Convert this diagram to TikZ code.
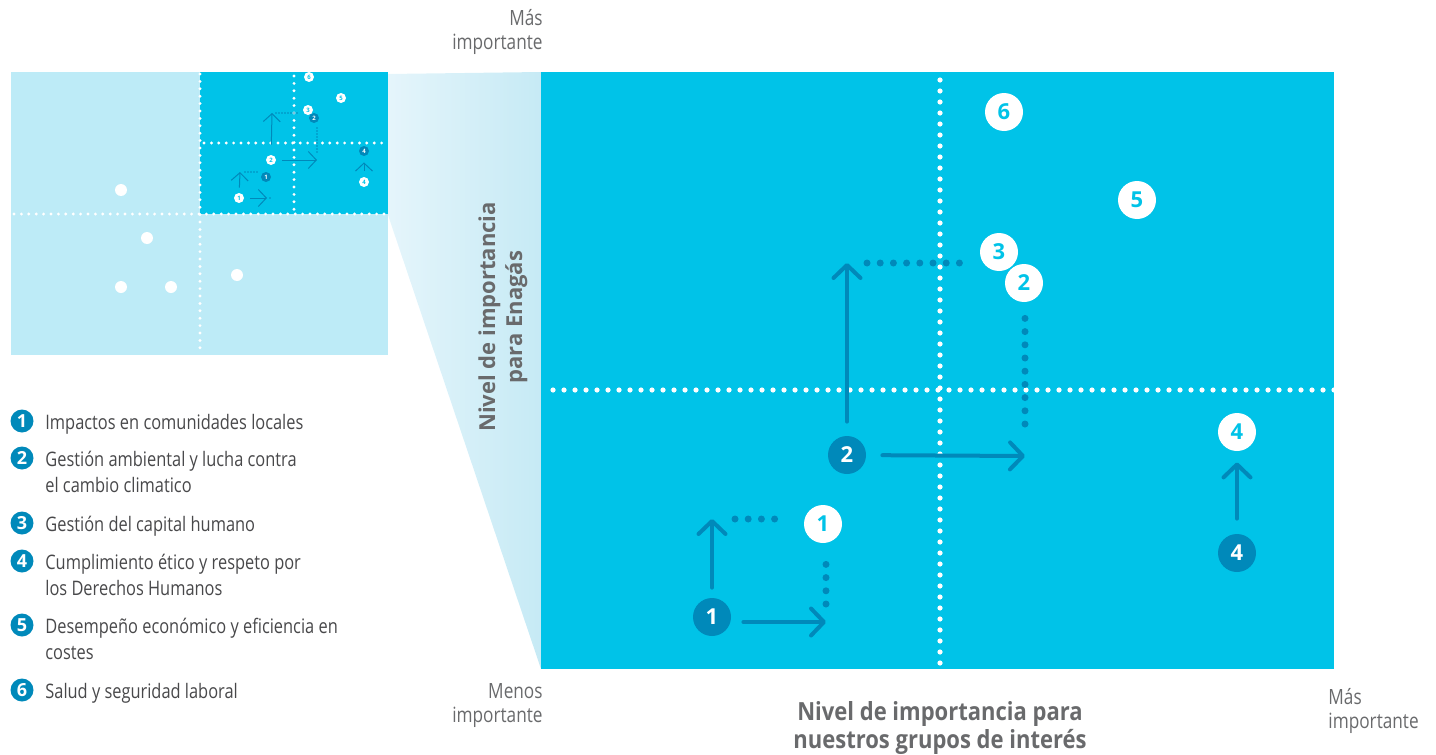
\documentclass[tikz,border=0pt]{standalone}
\usepackage{fontspec}
\setmainfont{Open Sans}
\newfontfamily\condfont[FakeStretch=0.82]{Open Sans}
\newfontfamily\titlefont[FakeStretch=0.88]{Open Sans}
\usetikzlibrary{arrows.meta,positioning}

\definecolor{chartbg}{RGB}{0,195,232}
\definecolor{lightbg}{RGB}{189,235,247}
\definecolor{funnelL}{RGB}{229,245,251}
\definecolor{funnelR}{RGB}{198,234,245}
\definecolor{darkpt}{RGB}{0,137,186}
\definecolor{graytext}{RGB}{105,106,108}
\definecolor{legendtext}{RGB}{72,72,74}

\tikzset{
    endpt/.style={circle, fill=white, text=chartbg, minimum size=19pt, inner sep=0pt, font=\fontsize{11}{11}\selectfont\bfseries},
    startpt/.style={circle, fill=darkpt, text=white, minimum size=19pt, inner sep=0pt, font=\fontsize{11}{11}\selectfont\bfseries},
    move/.style={draw=darkpt, line width=2pt, line cap=round, -{Straight Barb[length=6.5pt,width=13.5pt,round]}},
    trail/.style={draw=darkpt, line width=3.5pt, line cap=round, dash pattern=on 0pt off 6.6pt},
    bigdots/.style={draw=white, line width=2.6pt, line cap=round, dash pattern=on 0pt off 5.5pt},
    smalldots/.style={draw=white, line width=1.6pt, line cap=round, dash pattern=on 0pt off 3.7pt},
    tendpt/.style={circle, fill=white, text=chartbg, minimum size=5pt, inner sep=0pt, font=\fontsize{3}{3}\selectfont\bfseries},
    tstartpt/.style={circle, fill=darkpt, text=white, minimum size=5pt, inner sep=0pt, font=\fontsize{3}{3}\selectfont\bfseries},
    tmove/.style={draw=darkpt, line width=0.5pt, -{Straight Barb[length=4pt,width=8.5pt]}},
    ttrail/.style={draw=darkpt, line width=0.8pt, line cap=round, dash pattern=on 0pt off 1.5pt},
    blip/.style={circle, fill=white, minimum size=6pt, inner sep=0pt},
    legdot/.style={circle, fill=darkpt, text=white, minimum size=11.5pt, inner sep=0pt, font=\fontsize{9}{9}\selectfont\bfseries},
    legtext/.style={text=legendtext, inner sep=0pt, align=left, font=\condfont\fontsize{10}{13}\selectfont},
    axistext/.style={text=graytext, inner sep=0pt, font=\condfont\fontsize{10.5}{12}\selectfont},
    axistitle/.style={text=graytext, inner sep=0pt, align=center, font=\titlefont\fontsize{12.5}{12}\selectfont\bfseries}
}

\begin{document}
\begin{tikzpicture}[x=0.5pt,y=-0.5pt]

\useasboundingbox (0,0) rectangle (1436,755);

% Backgrounds

\fill[lightbg] (11,72) rectangle (388,355);
\fill[chartbg] (200,72) rectangle (388,214);
\shade[left color=funnelL, right color=funnelR] (388,74) -- (541,72) -- (541,669) -- (388,215) -- cycle;
\fill[chartbg] (541,72) rectangle (1334,669);

% Grid lines

\draw[bigdots] (940,80) -- (940,669);
\draw[bigdots] (553,390) -- (1334,390);
\draw[smalldots] (200,74) -- (200,352);
\draw[smalldots] (14,214) -- (388,214);
\draw[smalldots] (294,76) -- (294,210);
\draw[smalldots] (204,143) -- (388,143);

% Thumbnail

\foreach \p [count=\i] in {(121,190),(147,238),(121,287),(171,287),(237,275)}
    \node[blip] (dot\i) at \p {};

\node[tendpt] (mw6) at (309,77) {6};
\node[tendpt] (mw5) at (341,98) {5};
\node[tendpt] (mw3) at (308,110) {3};
\node[tstartpt] (md2) at (314,118) {2};
\node[tstartpt] (md4) at (364,151) {4};
\node[tendpt] (mw4) at (364,182) {4};
\node[tendpt] (mw2) at (271,160) {2};
\node[tstartpt] (md1) at (266,177) {1};
\node[tendpt] (mw1) at (239,198) {1};

\coordinate (mu1) at (240,172);
\coordinate (mr1) at (267,198);
\coordinate (mu2) at (272,113);
\coordinate (mr2) at (317,160);

\draw[tmove, shorten <=2.5pt] (mw1) -- (mu1);
\draw[tmove, shorten <=3pt] (mw1.east |- mr1) -- (mr1);
\draw[ttrail, shorten <=2.5pt, shorten >=1pt] (mu1) -- (mu1 -| md1.west);
\draw[ttrail, shorten <=1.5pt, shorten >=1.5pt] (mr1) -- (mr1 -| md1.south);
\draw[tmove, shorten <=5pt] (mw2) -- (mu2);
\draw[tmove, shorten <=3pt] (mw2) -- (mr2);
\draw[ttrail, shorten <=2pt, shorten >=2.5pt] (mu2) -- (mu2 -| mw3.west);
\draw[ttrail, shorten <=4pt, shorten >=2pt] (mr2) -- (mr2 |- md2.south);
\draw[tmove, shorten <=3pt, shorten >=3pt] (mw4) -- (md4);

% Nodes

\node[endpt] (e6) at (1004,112) {6};
\node[endpt] (e5) at (1137,200) {5};
\node[endpt] (e3) at (999,252) {3};
\node[endpt] (e2) at (1024,283) {2};
\node[endpt] (e4) at (1237,432) {4};
\node[endpt] (e1) at (823,524) {1};
\node[startpt] (s2) at (847,455) {2};
\node[startpt] (s1) at (712,617) {1};
\node[startpt] (s4) at (1237,553) {4};

% Edges

\coordinate (u1) at (712,519);
\coordinate (r1) at (826,622);
\coordinate (u2) at (847,263);
\coordinate (r2) at (1025,456);

\draw[move, shorten <=5pt] (s1) -- (u1);
\draw[move, shorten <=6pt] (s1.east |- r1) -- (r1);
\draw[trail, shorten <=11.5pt, shorten >=8pt] (u1) -- (u1 -| e1.west);
\draw[trail, shorten <=9pt, shorten >=8pt] (r1) -- (r1 |- e1.south);
\draw[move, shorten <=7pt] (s2) -- (u2);
\draw[move, shorten <=8pt] (s2) -- (r2);
\draw[trail, shorten <=10pt, shorten >=6pt] (u2) -- (u2 -| e3.west);
\draw[trail, shorten <=16pt, shorten >=8pt] (r2) -- (r2 |- e2.south);
\draw[move, shorten <=7.5pt, shorten >=5.5pt] (s4) -- (e4);

% Axis labels

\node[axistext, align=right, anchor=east] (ytop) at (543,32) {Más\\importante};
\node[axistext, align=right, anchor=east] (xlow) at (543,706) {Menos\\importante};
\node[axistext, align=left, anchor=west] (xtop) at (1328,711) {Más\\importante};
\node[axistitle] (xtitle) at (940,728) {Nivel de importancia para\\nuestros grupos de interés};
\node[axistitle, rotate=90, font=\fontsize{11}{13.5}\selectfont\bfseries] (ytitle) at (503,317) {Nivel de importancia\\para Enagás};

% Legend

\node[legdot] (l1) at (22,421) {1};
\node[legdot] (l2) at (22,458) {2};
\node[legdot] (l3) at (22,523) {3};
\node[legdot] (l4) at (22,561) {4};
\node[legdot] (l5) at (22,625) {5};
\node[legdot] (l6) at (22,690) {6};

\node[legtext, anchor=base west] (t1) at (45,429) {Impactos en comunidades locales};
\node[legtext, anchor=base west] (t2) at (45,492) {Gestión ambiental y lucha contra\\el cambio climatico};
\node[legtext, anchor=base west] (t3) at (45,531) {Gestión del capital humano};
\node[legtext, anchor=base west] (t4) at (45,595) {Cumplimiento ético y respeto por\\los Derechos Humanos};
\node[legtext, anchor=base west] (t5) at (45,659) {Desempeño económico y eficiencia en\\costes};
\node[legtext, anchor=base west] (t6) at (45,698) {Salud y seguridad laboral};

\end{tikzpicture}
\end{document}
